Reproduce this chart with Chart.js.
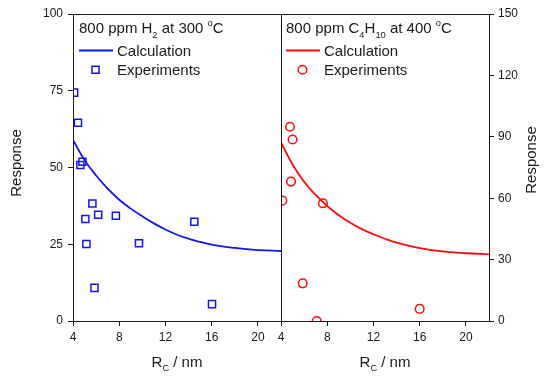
<!DOCTYPE html>
<html>
<head>
<meta charset="utf-8">
<script src="https://cdn.jsdelivr.net/npm/chart.js@4"></script>
<style>
  html, body { margin: 0; padding: 0; background: #fff; }
  #wrap { position: relative; width: 550px; height: 379px; overflow: hidden; }
  canvas { position: absolute; top: 0; }
</style>
</head>
<body>
<div id="wrap">
  <canvas id="left-chart" width="290" height="379" style="left:0"></canvas>
  <canvas id="right-chart" width="310" height="379" style="left:240px"></canvas>
</div>
<script>
// values
const rTicks = [4, 8, 12, 16, 20]
const h2RespTicks = [0, 25, 50, 75, 100]
const c4RespTicks = [0, 30, 60, 90, 120, 150]

const h2CalcR = [4, 5, 6, 7, 8, 9, 10, 11, 12, 13, 14, 16, 18, 20, 22]
const h2CalcResp = [59, 52.4, 47.4, 43.1, 39.5, 36.6, 34.1, 31.8, 29.8, 28.1, 26.8, 24.9, 23.8, 23.1, 22.8]
const h2ExpR = [4.1, 4.43, 4.64, 4.82, 5.68, 5.07, 6.18, 7.71, 5.16, 9.71, 14.5, 5.86, 16.03]
const h2ExpResp = [74.4, 64.6, 50.8, 51.9, 38.3, 33.2, 34.6, 34.3, 25.1, 25.3, 32.3, 10.8, 5.5]

const c4CalcR = [4, 5, 6, 7, 8, 9, 10, 11, 12, 13, 14, 16, 18, 20, 22]
const c4CalcResp = [87.2, 76.5, 68, 61.6, 56.2, 51.7, 48, 44.9, 42.4, 40.2, 38.3, 35.6, 34, 33.1, 32.6]
const c4ExpR = [4.78, 5.0, 4.87, 4.11, 7.63, 5.88, 7.09, 16.0]
const c4ExpResp = [94.9, 88.7, 68.1, 58.8, 57.5, 18.4, 0, 5.9]

const FONT = "'Liberation Sans', Arial, sans-serif"
const INK = '#1a1a1a'
const BLUE = '#1414f0'
const RED = '#ff0a0a'

const toPoints = (xs, ys) => xs.map((x, i) => ({ x, y: ys[i] }))

// draws text made of [text, 'sub' | 'sup' | ''] parts, returns end x
function drawRich(ctx, parts, x, y, size, measureOnly) {
  ctx.textBaseline = 'alphabetic'
  ctx.textAlign = 'left'
  parts.forEach(([t, kind]) => {
    const s = kind ? size * 0.62 : size
    const dy = kind === 'sub' ? size * 0.32 : kind === 'sup' ? -size * 0.45 : 0
    ctx.font = `${s}px ${FONT}`
    if (!measureOnly) ctx.fillText(t, x, y + dy)
    x += ctx.measureText(t).width
  })
  return x
}

function drawMarker(ctx, style, x, y, color) {
  ctx.save()
  ctx.strokeStyle = color
  ctx.lineWidth = 1.5
  ctx.beginPath()
  if (style === 'rect') {
    const h = 5 * Math.SQRT1_2
    ctx.rect(x - h, y - h, 2 * h, 2 * h)
  } else {
    ctx.arc(x, y, 4.3, 0, Math.PI * 2)
  }
  ctx.stroke()
  ctx.restore()
}

function decorPlugin(cfg) {
  return {
    id: 'decor',
    afterDatasetsDraw(chart) {
      const { ctx, chartArea: a } = chart
      ctx.save()
      // frame
      ctx.strokeStyle = INK
      ctx.lineWidth = 1
      ctx.strokeRect(Math.round(a.left) + 0.5, Math.round(a.top) + 0.5,
        Math.round(a.right - a.left), Math.round(a.bottom - a.top))

      ctx.fillStyle = INK
      // panel title
      drawRich(ctx, cfg.title, a.left + cfg.dx, a.top + 18.7, 15)

      // legend
      ctx.strokeStyle = cfg.color
      ctx.lineWidth = 1.8
      ctx.beginPath()
      ctx.moveTo(a.left + cfg.dx, a.top + 36.5)
      ctx.lineTo(a.left + cfg.dx + 34, a.top + 36.5)
      ctx.stroke()
      ctx.fillStyle = INK
      drawRich(ctx, [['Calculation', '']], a.left + cfg.dx + 38, a.top + 42, 15)
      drawMarker(ctx, cfg.marker, a.left + cfg.dx + 16.5, a.top + 55.8, cfg.color)
      drawRich(ctx, [['Experiments', '']], a.left + cfg.dx + 38, a.top + 61, 15)

      // x axis title
      const parts = [['R', ''], ['C', 'sub'], [' / nm', '']]
      const w = drawRich(ctx, parts, 0, 0, 15, true)
      drawRich(ctx, parts, (a.left + a.right) / 2 - w / 2, 366.5, 15)

      // y axis title
      ctx.save()
      ctx.translate(cfg.yTitleX, cfg.yTitleY)
      ctx.rotate(-Math.PI / 2)
      ctx.font = `15px ${FONT}`
      ctx.textAlign = 'center'
      ctx.textBaseline = 'middle'
      ctx.fillText('Response', 0, 0)
      ctx.restore()
      ctx.restore()
    }
  }
}

function fixedTicks(values) {
  return (scale) => { scale.ticks = values.map((v) => ({ value: v })) }
}

function axisBase(padding) {
  return {
    type: 'linear',
    grid: { drawOnChartArea: false, drawTicks: true, tickLength: 5, color: INK, lineWidth: 1 },
    border: { display: false },
    ticks: { font: { family: FONT, size: 12 }, color: INK, padding, maxRotation: 0, autoSkip: false }
  }
}

function buildChart(el, opts) {
  return new Chart(document.getElementById(el), {
    type: 'scatter',
    data: {
      datasets: [{
        label: 'Calculation',
        data: toPoints(opts.calcR, opts.calcResp),
        showLine: true,
        borderColor: opts.color,
        borderWidth: 1.8,
        pointRadius: 0,
        tension: 0.4
      }, {
        label: 'Experiments',
        data: toPoints(opts.expR, opts.expResp),
        pointStyle: opts.marker,
        pointRadius: opts.marker === 'rect' ? 5 : 4.3,
        borderColor: opts.color,
        backgroundColor: 'rgba(0,0,0,0)',
        borderWidth: 1.5
      }]
    },
    options: {
      responsive: false,
      animation: false,
      layout: { padding: opts.padding },
      plugins: { legend: { display: false }, tooltip: { enabled: false } },
      scales: {
        x: {
          ...axisBase(4),
          position: 'bottom',
          min: 4,
          max: 22,
          afterBuildTicks: fixedTicks(rTicks),
          afterFit: (s) => { s.height = 58 }
        },
        y: {
          ...axisBase(opts.yPos === 'left' ? 5 : 4),
          position: opts.yPos,
          min: 0,
          max: opts.yTicks[opts.yTicks.length - 1],
          afterBuildTicks: fixedTicks(opts.yTicks),
          afterFit: (s) => { s.width = opts.yWidth }
        }
      }
    },
    plugins: [decorPlugin(opts.decor)]
  })
}

buildChart('left-chart', {
  calcR: h2CalcR, calcResp: h2CalcResp, expR: h2ExpR, expResp: h2ExpResp,
  color: BLUE, marker: 'rect', yPos: 'left', yTicks: h2RespTicks, yWidth: 73,
  padding: { top: 14, right: 9, bottom: 0, left: 0 },
  decor: {
    title: [['800 ppm H', ''], ['2', 'sub'], [' at 300 ', ''], ['o', 'sup'], ['C', '']],
    dx: 6, color: BLUE, marker: 'rect', yTitleX: 16.5, yTitleY: 163
  }
})

buildChart('right-chart', {
  calcR: c4CalcR, calcResp: c4CalcResp, expR: c4ExpR, expResp: c4ExpResp,
  color: RED, marker: 'circle', yPos: 'right', yTicks: c4RespTicks, yWidth: 61,
  padding: { top: 14, right: 0, bottom: 0, left: 41 },
  decor: {
    title: [['800 ppm C', ''], ['4', 'sub'], ['H', ''], ['10', 'sub'], [' at 400 ', ''], ['o', 'sup'], ['C', '']],
    dx: 5, color: RED, marker: 'circle', yTitleX: 531.7 - 240, yTitleY: 160
  }
})
</script>
</body>
</html>
